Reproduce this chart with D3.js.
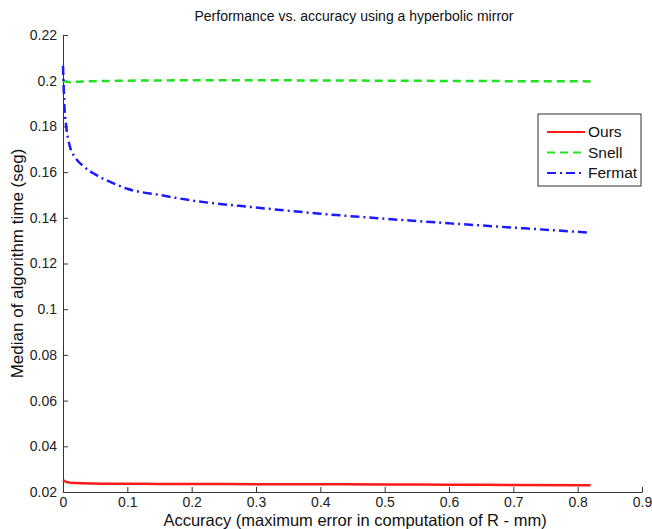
<!DOCTYPE html>
<html lang="en">
<head>
<meta charset="UTF-8">
<title>Performance vs. accuracy</title>
<style>
    body { margin: 0; background: #fff; }
    svg { display: block; font-family: "Liberation Sans", Arial, sans-serif; }
</style>
</head>
<body>
<script src="https://cdn.jsdelivr.net/npm/d3@7"></script>
<script>
    // valeurs
    const accuracy = [0, 0.002, 0.005, 0.01, 0.02, 0.03, 0.05, 0.075, 0.1, 0.15, 0.2, 0.3, 0.4, 0.5, 0.6, 0.7, 0.82];
    const ours   = [0.0252, 0.0248, 0.0244, 0.0241, 0.0239, 0.0238, 0.0237, 0.0236, 0.0236, 0.0235, 0.0235, 0.0234, 0.0234, 0.0233, 0.0232, 0.0231, 0.0230];
    const snell  = [0.2000, 0.1997, 0.1995, 0.1994, 0.1995, 0.1996, 0.1998, 0.1999, 0.2000, 0.2001, 0.2002, 0.2002, 0.2001, 0.2000, 0.1999, 0.1998, 0.1997];
    const fermat = [0.2065, 0.1900, 0.1800, 0.1720, 0.1660, 0.1630, 0.1590, 0.1555, 0.1527, 0.1500, 0.1476, 0.1445, 0.1418, 0.1396, 0.1376, 0.1357, 0.1335];

    const xTicks = [0, 0.1, 0.2, 0.3, 0.4, 0.5, 0.6, 0.7, 0.8, 0.9];
    const yTicks = [0.02, 0.04, 0.06, 0.08, 0.1, 0.12, 0.14, 0.16, 0.18, 0.2, 0.22];

    const series = [
        { name: 'Ours', values: ours, color: '#ff1a1a', dash: null },
        { name: 'Snell', values: snell, color: '#22e022', dash: '8,5' },
        { name: 'Fermat', values: fermat, color: '#1a1aff', dash: '9,4,2,4' }
    ];

    const width = 652, height = 529;
    const marge = { top: 35, right: 10, bottom: 37, left: 63 };

    const svg = d3.select('body').append('svg')
        .attr('width', width)
        .attr('height', height);

    const x = d3.scaleLinear().domain([0, 0.9]).range([marge.left, 642]);
    const y = d3.scaleLinear().domain([0.02, 0.22]).range([height - marge.bottom, marge.top]);

    // axes (ticks vers l'intérieur, style matlab)
    const axeX = d3.axisBottom(x).tickValues(xTicks).tickSizeInner(-5).tickSizeOuter(0)
        .tickPadding(7).tickFormat(d3.format('~g'));
    const axeY = d3.axisLeft(y).tickValues(yTicks).tickSizeInner(-5).tickSizeOuter(0)
        .tickPadding(6).tickFormat(d3.format('~g'));

    const gx = svg.append('g')
        .attr('transform', `translate(0,${y(0.02)})`)
        .call(axeX);
    const gy = svg.append('g')
        .attr('transform', `translate(${x(0)},0)`)
        .call(axeY);

    [gx, gy].forEach(g => {
        g.selectAll('path, line').attr('stroke', '#333');
        g.selectAll('text').attr('fill', '#222').style('font-size', '14px');
    });
    gx.selectAll('text').attr('dy', '0.6em');

    // courbes
    const ligne = d3.line()
        .x((d, i) => x(accuracy[i]))
        .y(d => y(d))
        .curve(d3.curveMonotoneX);

    svg.append('g').selectAll('path')
        .data(series)
        .enter()
        .append('path')
            .attr('d', d => ligne(d.values))
            .attr('fill', 'none')
            .attr('stroke', d => d.color)
            .attr('stroke-width', 2.5)
            .attr('stroke-dasharray', d => d.dash);

    // titres
    svg.append('text')
        .attr('x', 354).attr('y', 21)
        .attr('text-anchor', 'middle')
        .style('font-size', '14px')
        .attr('fill', '#111')
        .text('Performance vs. accuracy using a hyperbolic mirror');

    svg.append('text')
        .attr('x', 355).attr('y', 526)
        .attr('text-anchor', 'middle')
        .style('font-size', '16.5px')
        .attr('fill', '#111')
        .text('Accuracy (maximum error in computation of R - mm)');

    svg.append('text')
        .attr('transform', `translate(23,${(y(0.02) + y(0.22)) / 2}) rotate(-90)`)
        .attr('text-anchor', 'middle')
        .style('font-size', '17px')
        .attr('fill', '#111')
        .text('Median of algorithm time (seg)');

    // légende
    const legende = svg.append('g').attr('transform', 'translate(538,114)');
    legende.append('rect')
        .attr('width', 103).attr('height', 72)
        .attr('fill', '#fff').attr('stroke', '#333');

    legende.selectAll('line')
        .data(series)
        .enter()
        .append('line')
            .attr('x1', 9).attr('x2', 47)
            .attr('y1', (d, i) => 18 + i * 20.5)
            .attr('y2', (d, i) => 18 + i * 20.5)
            .attr('stroke', d => d.color)
            .attr('stroke-width', 2)
            .attr('stroke-dasharray', d => d.dash);

    legende.selectAll('text')
        .data(series)
        .enter()
        .append('text')
            .attr('x', 50)
            .attr('y', (d, i) => 18 + i * 20.5)
            .attr('dy', '0.35em')
            .style('font-size', '15.5px')
            .attr('fill', '#111')
            .text(d => d.name);
</script>
</body>
</html>
